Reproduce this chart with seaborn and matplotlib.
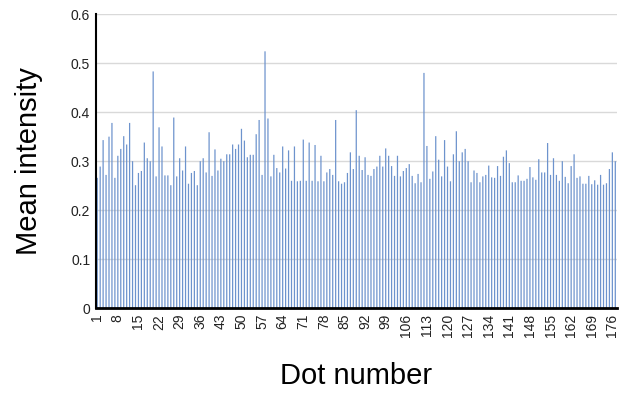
import matplotlib
matplotlib.use("Agg")
import matplotlib.pyplot as plt
import seaborn as sns
import pandas as pd

# Mean intensity measured for each dot (dots 1..177)
intensity = [
    0.266, 0.289, 0.343, 0.272, 0.350, 0.378, 0.266, 0.311, 0.325, 0.351,
    0.334, 0.378, 0.300, 0.251, 0.276, 0.280, 0.338, 0.306, 0.300, 0.483,
    0.269, 0.369, 0.330, 0.271, 0.271,
    0.251, 0.389, 0.269, 0.306, 0.281, 0.330, 0.254, 0.276, 0.280, 0.251,
    0.300, 0.306, 0.277, 0.359, 0.270, 0.324, 0.281, 0.305, 0.300, 0.314,
    0.314, 0.334, 0.325, 0.334, 0.366,
    0.342, 0.308, 0.313, 0.313, 0.355, 0.384, 0.272, 0.524, 0.387, 0.269,
    0.313, 0.286, 0.277, 0.330, 0.285, 0.322, 0.260, 0.330, 0.259, 0.260,
    0.344, 0.260, 0.338, 0.260, 0.333,
    0.259, 0.311, 0.259, 0.277, 0.284, 0.272, 0.384, 0.259, 0.254, 0.257,
    0.276, 0.318, 0.284, 0.404, 0.311, 0.282, 0.308, 0.272, 0.270, 0.284,
    0.289, 0.311, 0.289, 0.326, 0.311, 0.290,
    0.270, 0.311, 0.269, 0.280, 0.286, 0.294, 0.270, 0.255, 0.274, 0.257,
    0.480, 0.331, 0.264, 0.279, 0.351, 0.303, 0.269, 0.343, 0.289, 0.259,
    0.314, 0.361, 0.300, 0.318, 0.325,
    0.300, 0.257, 0.281, 0.276, 0.257, 0.269, 0.272, 0.291, 0.267, 0.266,
    0.290, 0.270, 0.309, 0.322, 0.296, 0.257, 0.257, 0.271, 0.260, 0.260,
    0.264, 0.288, 0.267, 0.262, 0.304,
    0.277, 0.277, 0.337, 0.272, 0.306, 0.272, 0.260, 0.300, 0.268, 0.255,
    0.290, 0.314, 0.266, 0.269, 0.254, 0.254, 0.270, 0.253, 0.261, 0.252,
    0.272, 0.252, 0.255, 0.284, 0.318, 0.300,
]
dot_numbers = list(range(1, len(intensity) + 1))
tick_step = 7
y_ticks = [0, 0.1, 0.2, 0.3, 0.4, 0.5, 0.6]
y_tick_labels = ["0", "0.1", "0.2", "0.3", "0.4", "0.5", "0.6"]

sns.set_theme(style="white")
plt.rcParams["font.family"] = ["Liberation Sans", "DejaVu Sans"]

df = pd.DataFrame({"dot": dot_numbers, "intensity": intensity})

fig = plt.figure(figsize=(6.3, 3.96), dpi=100)
ax = fig.add_axes([0.152, 0.2215, 0.827, 0.743])

sns.barplot(data=df, x="dot", y="intensity", color="#6d93cd",
            saturation=1, width=0.42, linewidth=0, ax=ax, zorder=2)
# keep every thin bar the same rendered width
for bar in ax.patches:
    bar.set_snap(False)

ax.set_ylim(0, 0.6)
ax.set_yticks(y_ticks)
ax.set_yticklabels(y_tick_labels, fontsize=10, color="#222222")
ax.yaxis.grid(True, color="#d9d9d9", linewidth=1.0, zorder=0)
ax.set_axisbelow(True)

positions = list(range(0, len(dot_numbers), tick_step))
ax.set_xticks(positions)
ax.set_xticklabels([str(dot_numbers[p]) for p in positions],
                   rotation=90, fontsize=10, color="#222222")
ax.tick_params(axis="both", length=0, pad=4)

for side in ("top", "right"):
    ax.spines[side].set_visible(False)
ax.spines["left"].set_color("black")
ax.spines["left"].set_linewidth(1.5)
ax.spines["bottom"].set_color("black")
ax.spines["bottom"].set_linewidth(2.0)

ax.set_xlabel("Dot number", fontsize=21, labelpad=18, color="black")
ax.set_ylabel("Mean intensity", fontsize=21, labelpad=20, color="black")

fig.savefig("out.png", dpi=100)
